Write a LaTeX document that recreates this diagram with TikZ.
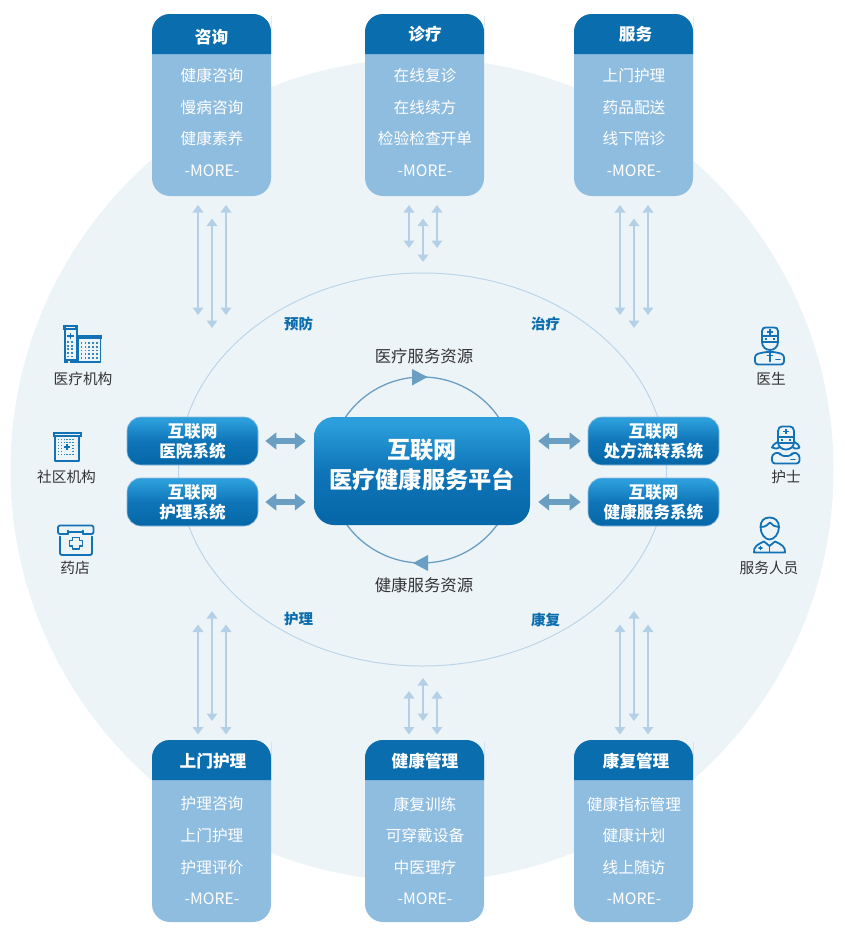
\documentclass[tikz,border=0pt]{standalone}
\usepackage{fontspec}
\setmainfont{Noto Sans CJK SC}
\usetikzlibrary{arrows.meta,calc}
\definecolor{bgc}{HTML}{EDF4F8}
\definecolor{dkb}{HTML}{0A6DAD}
\definecolor{ltb}{HTML}{8FBDE0}
\definecolor{arw}{HTML}{B4D0E6}
\definecolor{thk}{HTML}{6A9EC2}
\definecolor{ring}{HTML}{BCD5E8}
\definecolor{ico}{HTML}{1272B5}
\definecolor{gtop}{HTML}{2B9EDB}
\definecolor{gmid}{HTML}{0F75B8}
\definecolor{gbot}{HTML}{0668A8}
\definecolor{txt}{HTML}{333333}
\pgfdeclareverticalshading{plat}{100bp}{color(0bp)=(gbot);color(28bp)=(gbot);color(50bp)=(gmid);color(72bp)=(gtop);color(100bp)=(gtop)}
\tikzset{
  bodybox/.style={fill=ltb,draw=none,rounded corners=18pt,minimum width=119pt,minimum height=182pt,inner sep=0pt},
  headtxt/.style={text=white,font=\fontsize{16.7}{20}\selectfont\bfseries,inner sep=0pt},
  itemtxt/.style={text=white,font=\fontsize{15.7}{20}\selectfont,inner sep=0pt},
  sysbox/.style={shading=plat,draw=ltb,line width=.6pt,rounded corners=14pt,minimum width=131pt,minimum height=48pt,inner sep=0pt},
  systxt/.style={align=center,text=white,font=\fontsize{16.6}{20}\selectfont\bfseries,inner sep=0pt},
  platbox/.style={shading=plat,rounded corners=20pt,minimum width=216pt,minimum height=108pt,inner sep=0pt},
  plattxt/.style={text=white,font=\fontsize{23.2}{30}\selectfont\bfseries,align=center,inner sep=0pt},
  thinarrow/.style={draw=arw,line width=2pt,{Triangle[width=10.5pt,length=7.5pt]}-{Triangle[width=10.5pt,length=7.5pt]}},
  thickarrow/.style={draw=thk,line width=5.5pt,{Triangle[width=16.5pt,length=11pt]}-{Triangle[width=16.5pt,length=11pt]},shorten >=8pt,shorten <=7pt},
  phase/.style={text=dkb,font=\fontsize{14.5}{18}\selectfont\bfseries,inner sep=0pt},
  restxt/.style={text=txt,font=\fontsize{16.4}{20}\selectfont,inner sep=0pt},
  icotxt/.style={text=txt,font=\fontsize{14.7}{18}\selectfont,inner sep=0pt},
  icoline/.style={draw=ico,line width=1.8pt,line join=round,line cap=round,fill=none},
  tri/.style={fill=thk,draw=none}
}
% \cardbox{name}{left x}{top y}{title}{title pos}{l1}{l2}{l3}{item y delta}
\newcommand{\cardbox}[9]{%
  \node[bodybox] (#1) at ({#2+59.5},{#3+91}) {};
  \fill[dkb,rounded corners=18pt] ({#2},{#3+40}) [sharp corners] -- ({#2},{#3+20}) [rounded corners=18pt] -- ({#2},{#3}) -- ({#2+119},{#3}) -- ({#2+119},{#3+20}) [sharp corners] -- ({#2+119},{#3+40}) -- cycle;
  \node[headtxt] (#1t) at (#5) {#4};
  \node[itemtxt] (#1a) at ({#2+60},{#3+61.7+#9}) {#6};
  \node[itemtxt] (#1b) at ({#2+60},{#3+93.5+#9}) {#7};
  \node[itemtxt] (#1c) at ({#2+60},{#3+124.8+#9}) {#8};
  \node[itemtxt] (#1d) at ({#2+60},{#3+156.5+#9}) {-MORE-};
}
\newcommand{\triarrow}[6]{%
  \coordinate (#1at) at ({#2-14},#3); \coordinate (#1ab) at ({#2-14},#4);
  \coordinate (#1bt) at (#2,#5); \coordinate (#1bb) at (#2,#6);
  \coordinate (#1ct) at ({#2+14},#3); \coordinate (#1cb) at ({#2+14},#4);
  \draw[thinarrow] (#1at) -- (#1ab);
  \draw[thinarrow] (#1bt) -- (#1bb);
  \draw[thinarrow] (#1ct) -- (#1cb);
}
\newcommand{\sysnode}[4]{%
  \node[sysbox] (#1) at (#2,#3) {};
  \node[systxt] (#1x) at (#2,{#3+.7}) {#4};
}
\newcommand{\dotgrid}[6]{%
  \foreach \ii in {1,...,#5}{\foreach \jj in {1,...,#6}{
    \fill[ico!85] ({#1+(\ii-1)*#3-.9},{#2+(\jj-1)*#4-.9}) rectangle ++(1.8,1.8);}}%
}
\newcommand{\plussign}[3]{%
  \fill[ico] ({#1-#3},{#2-.9}) rectangle ({#1+#3},{#2+.9});
  \fill[ico] ({#1-.9},{#2-#3}) rectangle ({#1+.9},{#2+#3});
}
\begin{document}
\begin{tikzpicture}[x=1pt,y=-1pt]
\useasboundingbox (0,0) rectangle (844,940);
\fill[white] (0,0) rectangle (844,940);
\fill[bgc] (422,470) circle [radius=411.5pt];
\draw[ring,line width=1pt] (422.5,469.5) ellipse [x radius=244pt,y radius=196.5pt];

% resource loop
\draw[thk,line width=1.3pt] (422,470) circle [radius=93pt];
\fill[tri] (412,369) -- (427.5,377) -- (412,385.5) -- cycle;
\fill[tri] (428,555) -- (413,563) -- (428,571) -- cycle;

% cards
\cardbox{c1}{152}{14}{咨询}{211.5,37}{健康咨询}{慢病咨询}{健康素养}{0}
\cardbox{c2}{365}{14}{诊疗}{425,34.5}{在线复诊}{在线续方}{检验检查开单}{0}
\cardbox{c3}{574}{14}{服务}{635.5,34.5}{上门护理}{药品配送}{线下陪诊}{0}
\cardbox{c4}{152}{740}{上门护理}{213,761}{护理咨询}{上门护理}{护理评价}{2.3}
\cardbox{c5}{365}{740}{健康管理}{425,761}{康复训练}{可穿戴设备}{中医理疗}{2.3}
\cardbox{c6}{574}{740}{康复管理}{636,761}{健康指标管理}{健康计划}{线上随访}{2.3}

% thin arrows
\triarrow{p}{212}{205}{315}{218.5}{328}
\triarrow{q}{423}{205}{248}{218.5}{262}
\triarrow{r}{634}{205}{315}{218.5}{328}
\triarrow{s}{212}{624.5}{734.5}{611}{721}
\triarrow{t}{423}{691}{734.5}{678}{721}
\triarrow{u}{634}{624.5}{734.5}{611}{721}

% platform and systems
\node[platbox] (plat) at (422,471) {};
\node[plattxt] (plattx) at (422,464.5) {互联网\\医疗健康服务平台};
\sysnode{s1}{192.5}{441}{互联网\\医院系统}
\sysnode{s2}{192.5}{502}{互联网\\护理系统}
\sysnode{s3}{653.5}{441}{互联网\\处方流转系统}
\sysnode{s4}{653.5}{502}{互联网\\健康服务系统}
\draw[thickarrow] (s1.east) -- (s1.east -| plat.west);
\draw[thickarrow] (s2.east) -- (s2.east -| plat.west);
\draw[thickarrow] (s3.west) -- (s3.west -| plat.east);
\draw[thickarrow] (s4.west) -- (s4.west -| plat.east);

% labels
\node[restxt] (r1) at (424,356) {医疗服务资源};
\node[restxt] (r2) at (424,585) {健康服务资源};
\node[phase] (ph1) at (298.5,324) {预防};
\node[phase] (ph2) at (545.5,324) {治疗};
\node[phase] (ph3) at (298.5,619.5) {护理};
\node[phase] (ph4) at (545.5,619.5) {康复};
\node[icotxt] (i1) at (83,378.5) {医疗机构};
\node[icotxt] (i2) at (66.5,476.5) {社区机构};
\node[icotxt] (i3) at (75,567.5) {药店};
\node[icotxt] (i4) at (771,378.5) {医生};
\node[icotxt] (i5) at (786,476.5) {护士};
\node[icotxt] (i6) at (769,567.5) {服务人员};

% hospital icon
\draw[icoline] (65,329) -- (65,362) -- (77,362) -- (77,329);
\fill[ico] (63,325) rectangle (78,330);
\fill[bgc] (66,326.7) rectangle (75,328.3);
\draw[icoline] (78,337) -- (78,362) -- (100.5,362) -- (100.5,337);
\fill[ico] (77,334.5) rectangle (102,339);
\fill[ico] (64,359) rectangle (78,363);
\fill[bgc] (68,361) rectangle (70,363);
\plussign{70.5}{336}{3.4}
\dotgrid{68}{342}{4}{3.6}{2}{5}
\dotgrid{81.5}{343}{3.9}{3.7}{5}{5}

% community icon
\fill[ico] (53,432) rectangle (81.5,436.5);
\fill[bgc] (55,433.6) rectangle (79.5,434.8);
\draw[icoline] (55,436) -- (55,461) -- (79,461) -- (79,436);
\dotgrid{58.5}{439.5}{2.95}{3}{6}{6}
\fill[bgc] (62.5,443) rectangle (71.5,451.5);
\plussign{67}{447}{3.4}

% pharmacy icon
\draw[icoline,rounded corners=2pt] (68,534) -- (58,534) -- (58,525.5) -- (93.5,525.5) -- (93.5,534) -- (83,534);
\draw[icoline] (68,530.5) -- (68,534) (83,530.5) -- (83,534) (68,532) -- (83,532);
\draw[icoline,rounded corners=2pt] (60,536.5) -- (60,555) -- (92,555) -- (92,536.5);
\draw[icoline] (72.5,537.5) -- (79.5,537.5) -- (79.5,540.5) -- (82.5,540.5) -- (82.5,546) -- (79.5,546) -- (79.5,549) -- (72.5,549) -- (72.5,546) -- (69.5,546) -- (69.5,540.5) -- (72.5,540.5) -- cycle;

% doctor icon
\draw[icoline] (762,336) -- (762,331) .. controls (762,328) and (764,327.5) .. (766,327.5) -- (774,327.5) .. controls (776,327.5) and (778,328) .. (778,331) -- (778,336) -- cycle;
\draw[icoline] (762,336) -- (762,342) .. controls (762,347) and (766,350) .. (770,350) .. controls (774,350) and (778,347) .. (778,342) -- (778,336);
\draw[icoline] (762,342) -- (778,342);
\plussign{770}{332}{2.6}
\fill[ico] (765,338) rectangle (767,340); \fill[ico] (773,338) rectangle (775,340);
\draw[icoline,rounded corners=3pt] (755,364.5) -- (784,364.5) -- (784,354.5) -- (775,352) -- (765,352) -- (755,354.5) -- cycle;
\draw[icoline] (770,353) -- (770,361.5) (767.5,355.5) -- (772.5,355.5);
\draw[icoline] (776,359.5) -- (780,359.5);

% nurse icon
\draw[icoline] (778,437) -- (778,431) .. controls (778,428) and (780,426.5) .. (782,426.5) -- (790,426.5) .. controls (792,426.5) and (794,428) .. (794,431) -- (794,437) -- cycle;
\plussign{786}{431.5}{2.6}
\draw[icoline] (778,437) -- (778,442) .. controls (778,447) and (782,449.5) .. (786,449.5) .. controls (790,449.5) and (794,447) .. (794,442) -- (794,437);
\draw[icoline] (778,443) -- (794,443);
\fill[ico] (781,439) rectangle (783,441); \fill[ico] (789,439) rectangle (791,441);
\draw[icoline] (777.5,442) .. controls (775,444) and (772,445) .. (772,447.5) .. controls (774,449) and (778,449) .. (779.5,447);
\draw[icoline] (794.5,442) .. controls (797,444) and (800,445) .. (799.5,447.5) .. controls (798,449) and (794,449) .. (792.5,447);
\draw[icoline,rounded corners=3pt] (772,463.5) -- (799.5,463.5) -- (799.5,454.5) -- (793,452) -- (791,456) -- (781,456) -- (779,452) -- (772,454.5) -- cycle;
\draw[icoline] (791,459.5) -- (795,459.5);

% service person icon
\draw[icoline] (769.5,517.5) .. controls (775,517.5) and (779,521) .. (779,527) .. controls (779,534) and (774,539.5) .. (769.5,539.5) .. controls (765,539.5) and (760.5,534) .. (760.5,527) .. controls (760.5,521) and (764,517.5) .. (769.5,517.5) -- cycle;
\draw[icoline] (761,527) .. controls (765,527) and (768,525) .. (770,522.5) .. controls (772,525) and (775,527) .. (778.5,527);
\draw[icoline] (754,552.5) -- (785,552.5) .. controls (785.5,547) and (782,544.5) .. (775,541.5) -- (769.5,546) -- (764,541.5) .. controls (757,544.5) and (753.5,547) .. (754,552.5) -- cycle;
\draw[icoline] (769.5,546) -- (769.5,552.5);
\draw[icoline] (759,548) -- (762,548) (760.5,546.5) -- (760.5,549.5);
\end{tikzpicture}
\end{document}
